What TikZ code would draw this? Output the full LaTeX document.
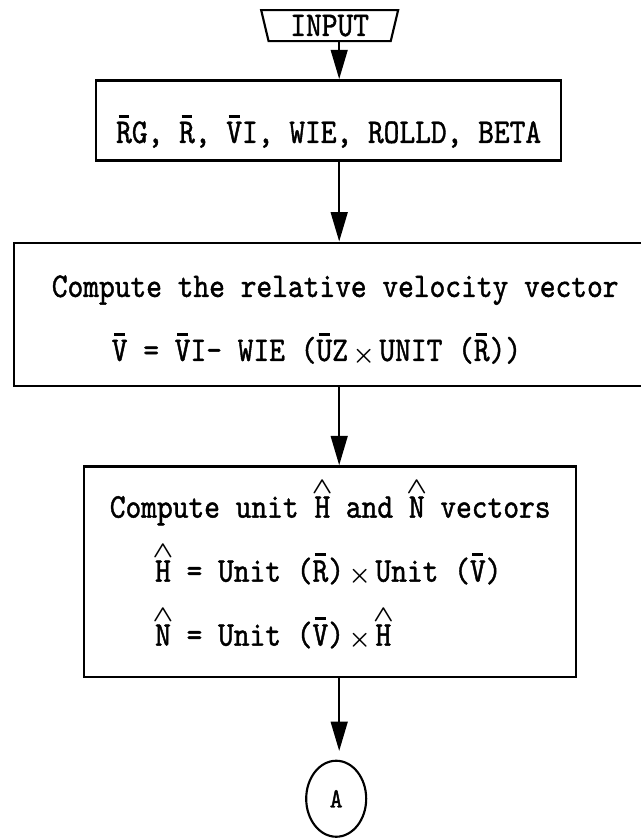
\documentclass[tikz,border=0pt]{standalone}
\usepackage{fontspec}
\usepackage{graphicx}
\usepackage{tikz}
\usetikzlibrary{positioning, arrows.meta, shapes.geometric, calc}
\newfontfamily\flowtt[FakeStretch=0.865, FakeBold=1.2]{lmmono10-regular.otf}
\newcommand\flowfont{\flowtt\fontsize{26pt}{48pt}\selectfont}
\newcommand\vbar[1]{\leavevmode\rlap{\hspace{1.8pt}\rule[19pt]{8.2pt}{2.2pt}}#1}
\newcommand\uhat[1]{\leavevmode\rlap{\hspace{-1.85pt}\raisebox{18pt}{\resizebox{15.5pt}{9.5pt}{\boldmath$\wedge$}}}#1}
\newcommand\crossx{\makebox[23.6pt]{\raisebox{-1pt}{\scalebox{0.75}{\boldmath$\times$}}}}

\begin{document}
\begin{tikzpicture}[
    font=\flowfont,
    box/.style={rectangle, draw=black, line width=1.8pt, inner sep=2pt},
    iobox/.style={trapezium, trapezium angle=73, shape border rotate=180, trapezium stretches body, draw=black, line width=1.6pt, minimum width=102.75pt, minimum height=23.25pt, inner sep=1pt},
    connector/.style={ellipse, draw=black, line width=1.6pt, minimum width=45pt, minimum height=57pt, inner sep=0pt, font=\flowtt\fontsize{21pt}{21pt}\selectfont},
    arrow/.style={-{Triangle[length=22pt, width=12.5pt]}, line width=1.8pt}
]
% Nodes
\node[iobox] (input) {INPUT};
\node[box, minimum width=348.75pt, minimum height=60pt, below=27.75pt of input, xshift=-0.75pt] (rg)
    {\rule[-3pt]{0pt}{40.5pt}\vbar{R}G, \vbar{R}, \vbar{V}I, WIE, ROLLD, BETA};
\node[box, align=left, minimum width=481.5pt, minimum height=107.5pt, below=60pt of rg, xshift=4.9pt] (vrel)
    {\rule{0pt}{28.8pt}Compute the relative velocity vector\\
     \hspace*{45pt}\vbar{V} = \vbar{V}I- WIE (\vbar{U}Z\crossx UNIT (\vbar{R}))\rule[-7pt]{0pt}{0pt}};
\node[box, align=left, minimum width=369pt, minimum height=158pt, below=58.5pt of vrel, xshift=-3.75pt] (unitvec)
    {Compute unit \uhat{H} and \uhat{N} vectors\\
     \hspace*{34pt}\uhat{H} = Unit (\vbar{R})\crossx Unit (\vbar{V})\\
     \hspace*{34pt}\uhat{N} = Unit (\vbar{V})\crossx\uhat{H}\rule[-12.75pt]{0pt}{0pt}};
\node[connector, below=61pt of unitvec, xshift=4.5pt] (conA) {A};

% Arrows
\coordinate (spine) at ([xshift=7.9pt]rg.south);
\draw[arrow] (input.south -| spine) -- (rg.north -| spine);
\draw[arrow] (rg.south -| spine) -- (vrel.north -| spine);
\draw[arrow] (vrel.south -| spine) -- (unitvec.north -| spine);
\draw[arrow, shorten >=6.5pt] (unitvec.south -| spine) -- (conA.north -| spine);

% Page
\pgfresetboundingbox
\useasboundingbox ($(vrel.west |- input.north)+(-9.75pt,6.75pt)$) rectangle ++(480.75pt,-630pt);
\end{tikzpicture}
\end{document}
